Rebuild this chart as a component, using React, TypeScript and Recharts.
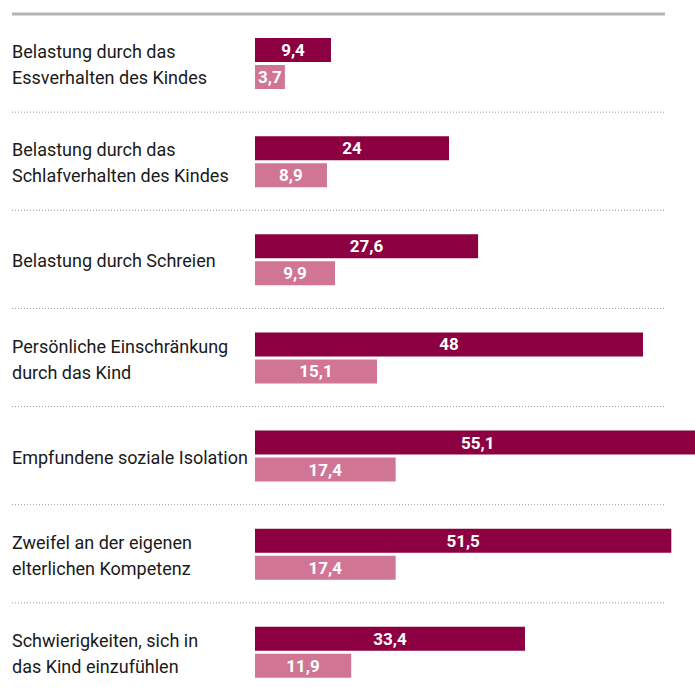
import { BarChart, Bar, XAxis, YAxis, LabelList } from 'recharts';

// Kategorien (Zeilenumbruch mit \n)
const categories = [
  'Belastung durch das\nEssverhalten des Kindes',
  'Belastung durch das\nSchlafverhalten des Kindes',
  'Belastung durch Schreien',
  'Persönliche Einschränkung\ndurch das Kind',
  'Empfundene soziale Isolation',
  'Zweifel an der eigenen\nelterlichen Kompetenz',
  'Schwierigkeiten, sich in\ndas Kind einzufühlen',
];

const seriesDark = [9.4, 24, 27.6, 48, 55.1, 51.5, 33.4];
const seriesLight = [3.7, 8.9, 9.9, 15.1, 17.4, 17.4, 11.9];

const data = categories.map((name, i) => ({
  name,
  dark: seriesDark[i],
  light: seriesLight[i],
}));

const FONT = 'Roboto, sans-serif';

const fmt = (v: any) => String(v).replace('.', ',');

const CategoryTick = (props: any) => {
  const { y, payload, index } = props;
  const half = payload && payload.offset ? payload.offset : 49;
  const top = y - half;
  const lines = String(payload.value).split('\n');
  return (
    <g>
      {index === 0 ? (
        <line x1={12} x2={665} y1={top} y2={top} stroke="#b3b3b3" strokeWidth={3} />
      ) : (
        <line x1={12} x2={665} y1={top} y2={top} stroke="#9a9a9a" strokeWidth={1} strokeDasharray="1 2" />
      )}
      <text x={12} y={y} fill="#1a1a1a" fontSize={18} fontFamily={FONT} textAnchor="start">
        {lines.map((l, i) => (
          <tspan key={i} x={12} dy={i === 0 ? (lines.length === 1 ? 8 : -5) : 26}>
            {l}
          </tspan>
        ))}
      </text>
    </g>
  );
};

export default function App() {
  return (
    <div style={{ position: 'fixed', left: 0, top: 0, width: 695, height: 697, overflow: 'hidden', background: '#fff' }}>
      <BarChart
        layout="vertical"
        width={740}
        height={701}
        data={data}
        margin={{ top: 14, right: 0, bottom: 0, left: 0 }}
        barSize={24}
        barGap={3}
      >
        <XAxis type="number" domain={[0, 60]} hide />
        <YAxis
          type="category"
          dataKey="name"
          width={255}
          axisLine={false}
          tickLine={false}
          tick={<CategoryTick />}
          interval={0}
        />
        <Bar dataKey="dark" fill="#8c0041" isAnimationActive={false}>
          <LabelList dataKey="dark" position="center" fill="#fff" fontSize={17} fontWeight="bold" fontFamily={FONT} formatter={fmt} />
        </Bar>
        <Bar dataKey="light" fill="#d17594" isAnimationActive={false}>
          <LabelList dataKey="light" position="center" fill="#fff" fontSize={17} fontWeight="bold" fontFamily={FONT} formatter={fmt} />
        </Bar>
      </BarChart>
    </div>
  );
}
